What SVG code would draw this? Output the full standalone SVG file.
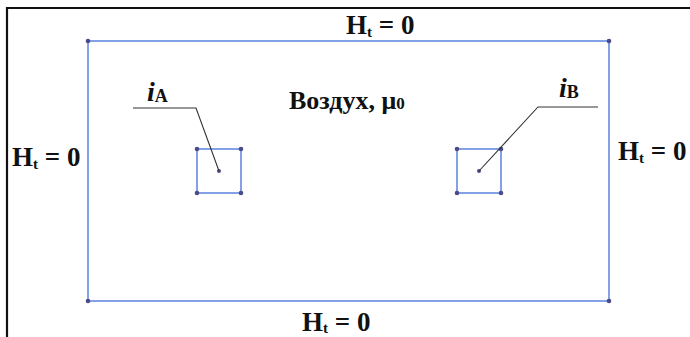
<svg xmlns="http://www.w3.org/2000/svg" width="690" height="337" viewBox="0 0 690 337">
<style>
.lbl{font-family:"Liberation Serif","Times New Roman",serif;font-weight:bold;fill:#111}
.bnd{fill:none;stroke:#5b82e0;stroke-width:1.5}
.dot{fill:#4b4b8c}
.lead{fill:none;stroke:#333;stroke-width:1.1}
</style>
<rect width="690" height="337" fill="#fff"/>
<path d="M7,337 V8 H690" fill="none" stroke="#111" stroke-width="2.2"/>
<g id="domain">
<rect class="bnd" x="88" y="41" width="521" height="260"/>
<circle class="dot" cx="88" cy="41" r="2.3"/>
<circle class="dot" cx="609" cy="41" r="2.3"/>
<circle class="dot" cx="88" cy="301" r="2.3"/>
<circle class="dot" cx="609" cy="301" r="2.3"/>
<text class="lbl" x="289" y="109" font-size="26">Воздух, μ<tspan font-size="17">0</tspan></text>
</g>
<g id="condA">
<rect class="bnd" x="197" y="149" width="44" height="44"/>
<circle class="dot" cx="197" cy="149" r="2.3"/>
<circle class="dot" cx="241" cy="149" r="2.3"/>
<circle class="dot" cx="197" cy="193" r="2.3"/>
<circle class="dot" cx="241" cy="193" r="2.3"/>
<circle class="dot" cx="219" cy="171" r="2"/>
</g>
<g id="condB">
<rect class="bnd" x="457" y="149" width="44" height="44"/>
<circle class="dot" cx="457" cy="149" r="2.3"/>
<circle class="dot" cx="501" cy="149" r="2.3"/>
<circle class="dot" cx="457" cy="193" r="2.3"/>
<circle class="dot" cx="501" cy="193" r="2.3"/>
<circle class="dot" cx="479" cy="171" r="2"/>
</g>
<g id="connectors">
<path class="lead" d="M133,108 H196 L219,171"/>
<path class="lead" d="M479,171 L538,107 H598"/>
</g>
<g id="labels">
<text class="lbl" x="147" y="101" font-size="28"><tspan font-style="italic">i</tspan><tspan font-size="18" dy="1">A</tspan></text>
<text class="lbl" x="559" y="97" font-size="28"><tspan font-style="italic">i</tspan><tspan font-size="18" dy="1">B</tspan></text>
<text class="lbl" x="346" y="34" font-size="27">H<tspan font-size="15" dy="3">t</tspan><tspan dy="-3"> = 0</tspan></text>
<text class="lbl" x="302" y="331" font-size="27">H<tspan font-size="15" dy="2">t</tspan><tspan dy="-2"> = 0</tspan></text>
<text class="lbl" x="12" y="166" font-size="27">H<tspan font-size="15" dy="3">t</tspan><tspan dy="-3"> = 0</tspan></text>
<text class="lbl" x="618" y="160" font-size="27">H<tspan font-size="15" dy="3">t</tspan><tspan dy="-3"> = 0</tspan></text>
</g>
</svg>
